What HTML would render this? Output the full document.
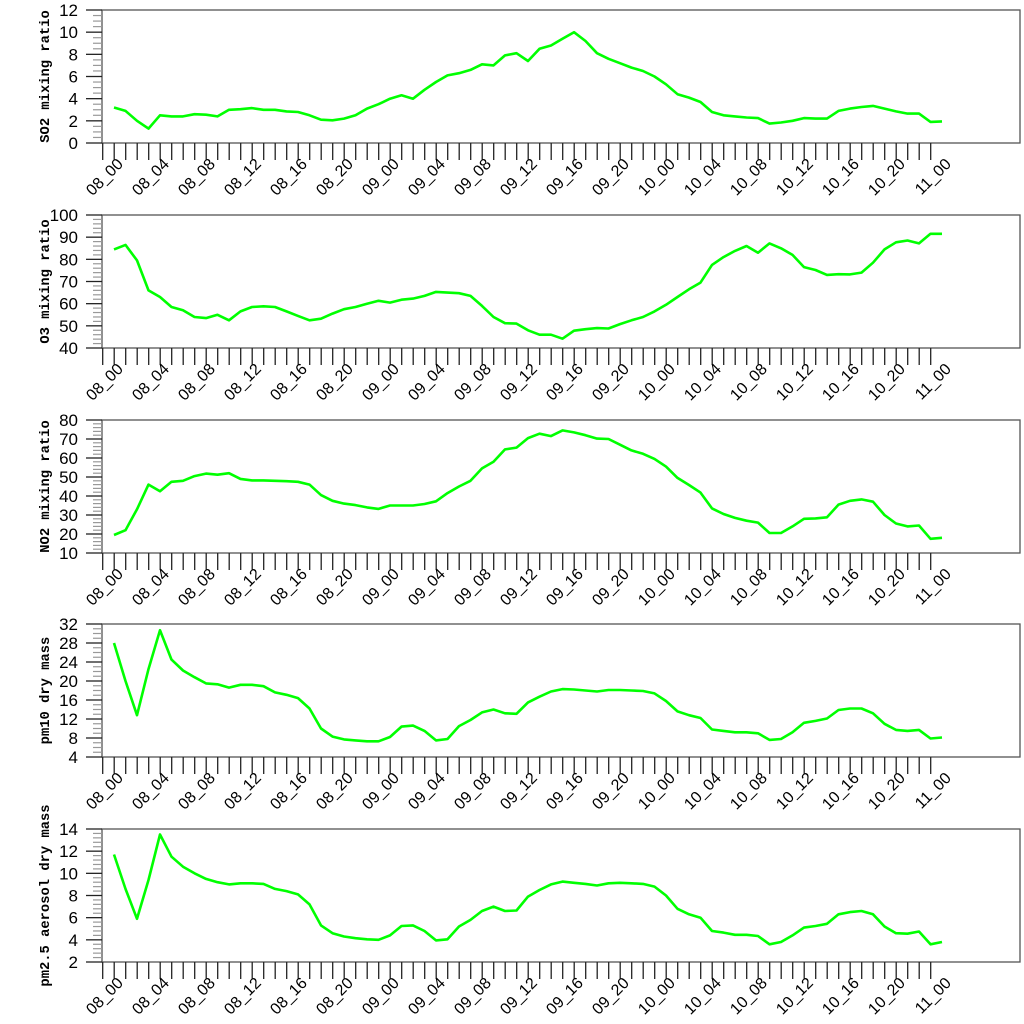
<!DOCTYPE html>
<html><head><meta charset="utf-8"><style>
html,body{margin:0;padding:0;background:#fff;}
svg{display:block;}
</style></head><body>
<svg id="chart" width="1024" height="1024" xmlns="http://www.w3.org/2000/svg"></svg>
<script>
const timeLabels = ["08_00","08_04","08_08","08_12","08_16","08_20","09_00","09_04","09_08","09_12","09_16","09_20","10_00","10_04","10_08","10_12","10_16","10_20","11_00"];
const so2 = [3.2,2.9,2.0,1.3,2.5,2.4,2.4,2.6,2.55,2.4,3.0,3.05,3.15,3.0,3.0,2.85,2.8,2.5,2.1,2.05,2.2,2.5,3.1,3.5,4.0,4.3,4.0,4.8,5.5,6.1,6.3,6.6,7.1,7.0,7.9,8.1,7.4,8.5,8.8,9.4,10.0,9.2,8.1,7.6,7.2,6.8,6.5,6.0,5.3,4.4,4.1,3.7,2.8,2.5,2.4,2.3,2.25,1.75,1.85,2.0,2.25,2.2,2.2,2.9,3.1,3.25,3.35,3.1,2.85,2.65,2.65,1.9,1.95];
const o3 = [84.5,86.5,79.5,66,63,58.5,57,54,53.5,55,52.5,56.5,58.5,58.8,58.5,56.5,54.5,52.5,53.2,55.5,57.5,58.5,60,61.3,60.5,61.8,62.3,63.5,65.3,65,64.7,63.5,59,54,51.2,51,48,46,46,44.2,47.8,48.5,49,48.8,50.8,52.5,54,56.5,59.5,63,66.5,69.5,77.5,81,83.8,86,83,87.2,85,82,76.5,75.2,73,73.3,73.2,74,78.5,84.5,87.7,88.5,87.2,91.5,91.5];
const no2 = [19.5,22,33,46,42.5,47.5,48,50.5,51.8,51.2,52,49,48.2,48.2,48,47.8,47.5,46,40.5,37.5,36,35.2,34,33.2,35,35,35,35.8,37.2,41.5,45,48,54.5,58,64.5,65.5,70.5,72.8,71.5,74.5,73.5,72,70.2,70,67,64,62.2,59.5,55.5,49.5,45.8,41.8,33.5,30.5,28.5,27,26,20.5,20.5,24,28,28.2,28.8,35.5,37.5,38.2,37,30,25.5,24,24.5,17.5,18];
const pm10 = [28,20,12.8,22.5,30.7,24.5,22.2,20.8,19.5,19.3,18.6,19.2,19.2,18.9,17.6,17.1,16.4,14.2,10,8.3,7.7,7.5,7.3,7.3,8.2,10.4,10.6,9.5,7.5,7.8,10.5,11.8,13.4,14,13.2,13.1,15.5,16.7,17.8,18.3,18.2,18,17.8,18.1,18.1,18,17.9,17.4,15.8,13.6,12.8,12.2,9.8,9.5,9.2,9.2,9,7.6,7.8,9.2,11.2,11.6,12.1,13.9,14.2,14.2,13.2,11,9.7,9.5,9.7,7.9,8.1];
const pm25 = [11.7,8.6,5.9,9.4,13.5,11.5,10.6,10,9.5,9.2,9,9.1,9.1,9.05,8.6,8.4,8.1,7.2,5.3,4.6,4.3,4.15,4.05,4.0,4.4,5.25,5.3,4.8,3.95,4.05,5.2,5.8,6.6,7.0,6.6,6.65,7.9,8.5,9.0,9.25,9.15,9.05,8.9,9.1,9.15,9.1,9.05,8.8,8.0,6.8,6.3,6.0,4.8,4.65,4.45,4.45,4.35,3.6,3.8,4.4,5.1,5.25,5.45,6.3,6.5,6.6,6.3,5.2,4.6,4.55,4.75,3.6,3.8];

const panels = [
 {name:"so2", title:"SO2 mixing ratio", data:so2, min:0, max:12, major:2, minor:0.5, top:10},
 {name:"o3", title:"O3 mixing ratio", data:o3, min:40, max:100, major:10, minor:2, top:215},
 {name:"no2", title:"NO2 mixing ratio", data:no2, min:10, max:80, major:10, minor:2, top:420},
 {name:"pm10", title:"pm10 dry mass", data:pm10, min:4, max:32, major:4, minor:1, top:624},
 {name:"pm25", title:"pm2.5 aerosol dry mass", data:pm25, min:2, max:14, major:2, minor:0.4, top:829}
];
const NS="http://www.w3.org/2000/svg";
const svg=document.getElementById('chart');
const L=102, R=1020, H=133, X0=114, DX=11.5;
function xs(i){return X0+i*DX;}
function mk(tag,attrs,parent){const e=document.createElementNS(NS,tag);for(const k in attrs)e.setAttribute(k,attrs[k]);parent.appendChild(e);return e;}

panels.forEach(p=>{
  const g=mk('g',{},svg);
  
  
  const top=p.top, bot=top+H;
  const ys=v=>bot-(v-p.min)/(p.max-p.min)*H;
  const frame=mk('rect',{x:L,y:top,width:R-L,height:H,fill:'none',stroke:'#555','stroke-width':1.3},g);
  
  
  const nMinor=Math.round((p.max-p.min)/p.minor);
  for(let k=0;k<=nMinor;k++){
    const v=p.min+k*p.minor, y=ys(v);
    const isMajor=Math.abs((v-p.min)/p.major-Math.round((v-p.min)/p.major))<1e-6;
    mk('line',{x1:isMajor?86:93,x2:L,y1:y,y2:y,stroke:isMajor?'#222':'#999','stroke-width':isMajor?1.3:1.2},g);
  }
  const yax=mk('g',{},g);
  
  
  for(let v=p.min; v<=p.max+1e-6; v+=p.major){
    const t=mk('text',{x:78,y:ys(v)+6,'text-anchor':'end','font-family':'Liberation Sans, sans-serif','font-size':17,fill:'#000'},yax);
    t.textContent=String(Math.round(v*10)/10);
  }
  const yt=mk('text',{x:0,y:0,transform:`translate(49,${top+H/2}) rotate(-90)`,'text-anchor':'middle','font-family':'Liberation Mono, monospace','font-weight':'bold','font-size':13.8,fill:'#000'},g);
  yt.textContent=p.title;
  
  
  for(let k=0;k<73;k++){
    const x=102.7+k*DX;
    mk('line',{x1:x,x2:x,y1:bot,y2:bot+17,stroke:'#222','stroke-width':1.3},g);
  }
  const xax=mk('g',{},g);
  
  
  timeLabels.forEach((lab,j)=>{
    const x=xs(j*4)+10, y=bot+22;
    const t=mk('text',{x:0,y:0,transform:`translate(${x},${y}) rotate(-45)`,'text-anchor':'end','font-family':'Liberation Sans, sans-serif','font-size':16,fill:'#000'},xax);
    t.textContent=lab;
  });
  const pts=p.data.map((v,i)=>xs(i).toFixed(1)+','+ys(v).toFixed(1)).join(' ');
  const line=mk('polyline',{points:pts,fill:'none',stroke:'#00ff00','stroke-width':2.6,'stroke-linejoin':'round'},g);
  
  
});
</script>
</body></html>
